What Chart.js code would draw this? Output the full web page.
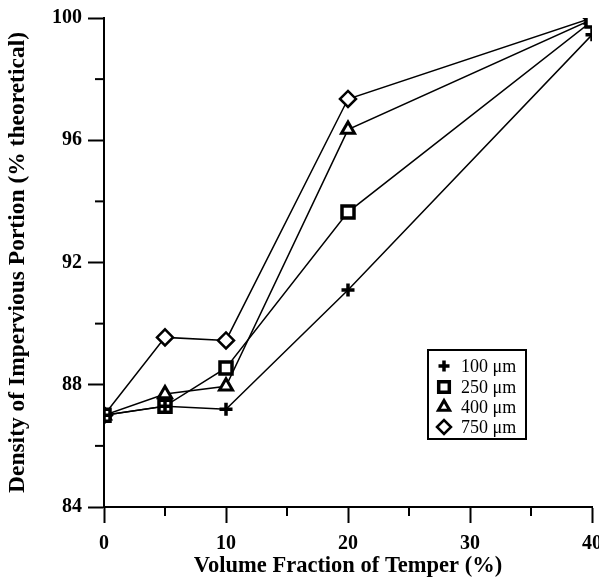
<!DOCTYPE html>
<html>
<head>
<meta charset="utf-8">
<script src="https://cdn.jsdelivr.net/npm/chart.js@4/dist/chart.umd.min.js"></script>
<style>
  html, body { margin: 0; padding: 0; background: #fff; }
  canvas { display: block; }
</style>
</head>
<body>
<canvas id="grafico" width="599" height="577"></canvas>
<script>
// volume fraction of temper (%)
var temper = [0, 5, 10, 20, 40];
// density of impervious portion (% theoretical), one list per temper size
var d100 = [87.0, 87.3, 87.2, 91.1, 99.45];
var d250 = [87.0, 87.3, 88.55, 93.65, 99.9];
var d400 = [87.0, 87.7, 87.95, 96.35, 99.95];
var d750 = [87.0, 89.55, 89.45, 97.35, 100.0];

var etiquetas = ['100 \u03bcm', '250 \u03bcm', '400 \u03bcm', '750 \u03bcm'];
var simbolos = ['cross', 'rect', 'triangle', 'rectRot'];
var radios = [6.5, 8.5, 7.5, 8];
var grosores = [3.5, 3.5, 3, 2.5];

var xMenores = [5, 15, 25, 35];
var yMenores = [86, 90, 94, 98];

var serie = function (ys) {
  return temper.map(function (t, i) { return { x: t, y: ys[i] }; });
};

var fuente = "'Liberation Serif', 'Times New Roman', serif";

function dataset(ys, i) {
  return {
    label: etiquetas[i],
    data: serie(ys),
    showLine: true,
    borderColor: '#000',
    borderWidth: 1.5,
    backgroundColor: '#fff',
    pointStyle: simbolos[i],
    pointRadius: radios[i],
    pointBorderWidth: grosores[i],
    pointBorderColor: '#000',
    pointBackgroundColor: '#fff'
  };
}

// minor ticks + legend box drawn inside plot area
var extras = {
  id: 'extras',
  afterDraw: function (chart) {
    var ctx = chart.ctx;
    var xs = chart.scales.x, ys = chart.scales.y;
    ctx.save();
    ctx.strokeStyle = '#000';
    ctx.lineWidth = 2;
    for (var i = 0; i < xMenores.length; i++) {
      var px = xs.getPixelForValue(xMenores[i]);
      ctx.beginPath(); ctx.moveTo(px, ys.bottom); ctx.lineTo(px, ys.bottom + 9); ctx.stroke();
    }
    for (var j = 0; j < yMenores.length; j++) {
      var py = ys.getPixelForValue(yMenores[j]);
      ctx.beginPath(); ctx.moveTo(xs.left, py); ctx.lineTo(xs.left - 9, py); ctx.stroke();
    }

    // legend
    var bx = 428, by = 350, bw = 98, bh = 89;
    ctx.lineWidth = 2;
    ctx.strokeRect(bx, by, bw, bh);
    var filas = [366, 387, 407, 427];
    ctx.font = '18px ' + fuente;
    ctx.textBaseline = 'middle';
    ctx.textAlign = 'left';
    for (var k = 0; k < etiquetas.length; k++) {
      ctx.fillStyle = '#fff';
      ctx.strokeStyle = '#000';
      ctx.lineWidth = grosores[k];
      Chart.helpers.drawPoint(ctx, { pointStyle: simbolos[k], radius: radios[k] - 1, rotation: 0, borderWidth: grosores[k] }, 444, filas[k]);
      ctx.fillStyle = '#000';
      ctx.fillText(etiquetas[k], 461, filas[k] + 1);
    }
    ctx.restore();
  }
};

var ctx = document.getElementById('grafico').getContext('2d');
var chart = new Chart(ctx, {
  type: 'scatter',
  data: {
    datasets: [dataset(d100, 0), dataset(d250, 1), dataset(d400, 2), dataset(d750, 3)]
  },
  options: {
    responsive: false,
    animation: false,
    layout: { autoPadding: false, padding: { top: 15, right: 7, left: 0, bottom: 0 } },
    plugins: {
      legend: { display: false },
      tooltip: { enabled: false }
    },
    scales: {
      x: {
        type: 'linear',
        min: 0, max: 40,
        afterFit: function (s) { s.height = 70; s.paddingLeft = 0; s.paddingRight = 0; },
        border: { display: true, color: '#000', width: 2 },
        grid: { drawOnChartArea: false, drawTicks: true, tickLength: 16, tickColor: '#000', tickWidth: 2 },
        ticks: { stepSize: 10, color: '#000', padding: 9, maxRotation: 0, font: { family: fuente, size: 20, weight: 'bold' } },
        title: { display: true, text: 'Volume Fraction of Temper (%)', color: '#000', padding: { top: 0, bottom: -3 }, font: { family: fuente, size: 22.5, weight: 'bold' } }
      },
      y: {
        type: 'linear',
        min: 84, max: 100,
        afterFit: function (s) { s.width = 104; },
        border: { display: true, color: '#000', width: 2 },
        grid: { drawOnChartArea: false, drawTicks: true, tickLength: 16, tickColor: '#000', tickWidth: 2 },
        ticks: { stepSize: 4, color: '#000', padding: 6, font: { family: fuente, size: 20, weight: 'bold' } },
        title: { display: true, text: 'Density of Impervious Portion (% theoretical)', color: '#000', padding: { top: 4, bottom: 0 }, font: { family: fuente, size: 23.5, weight: 'bold' } }
      }
    }
  },
  plugins: [extras]
});
</script>
</body>
</html>
